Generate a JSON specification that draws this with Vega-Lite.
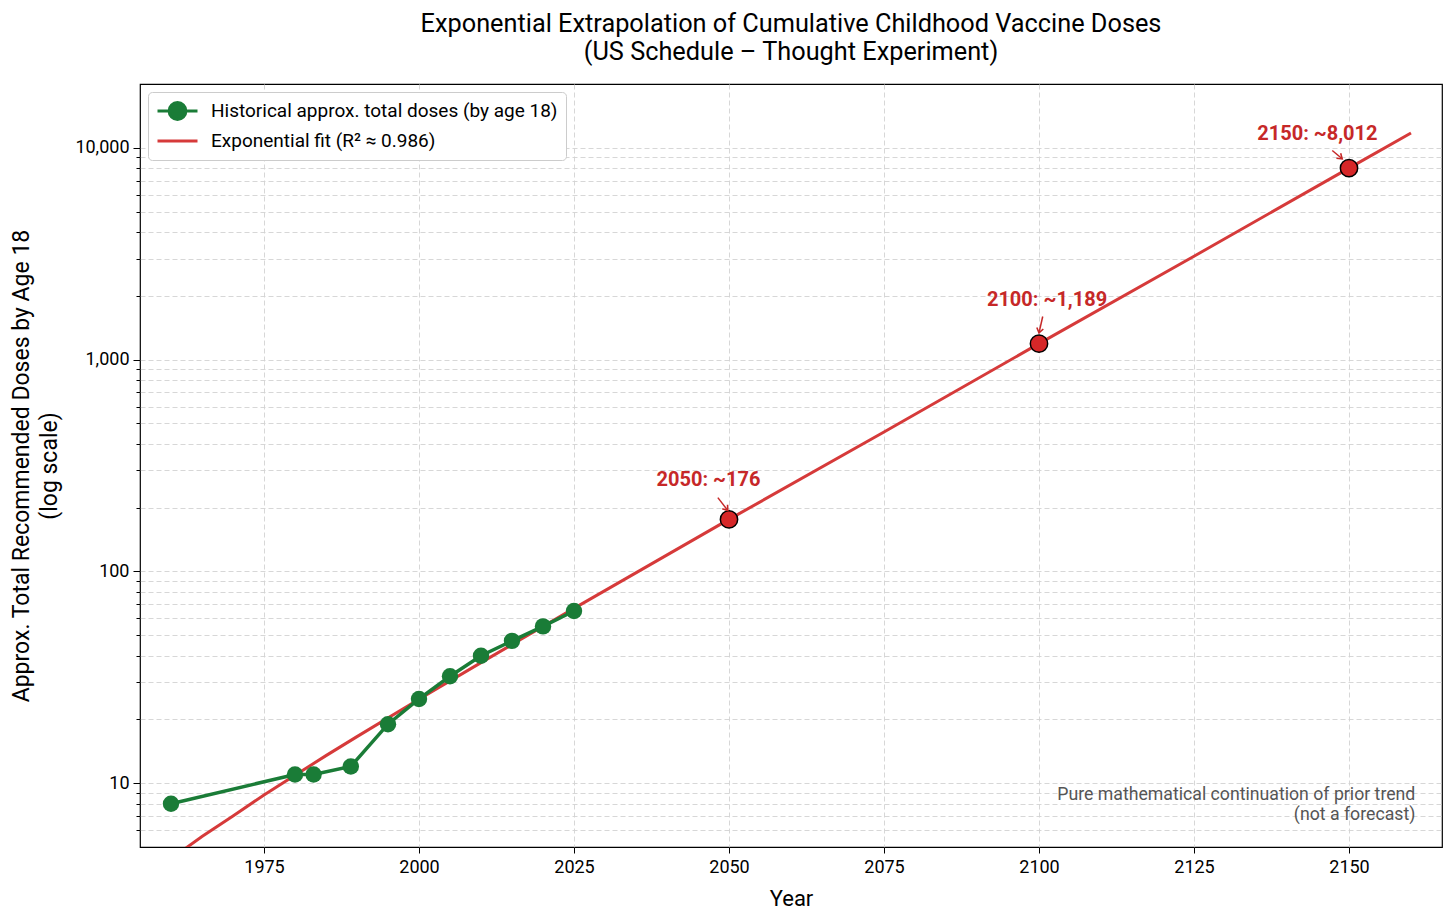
{
  "$schema": "https://vega.github.io/schema/vega-lite/v6.json",
  "width": 1302,
  "height": 763,
  "autosize": {"type": "none"},
  "padding": {"left": 140, "top": 84, "right": 14, "bottom": 76},
  "background": "white",
  "config": {
    "font": "Roboto",
    "view": {"stroke": "black", "strokeWidth": 1.2},
    "axis": {
      "domain": false,
      "tickColor": "black",
      "labelColor": "black",
      "titleColor": "black",
      "gridColor": "#d2d2d2",
      "gridDash": [5, 3],
      "gridWidth": 0.9,
      "labelFontSize": 18,
      "titleFontSize": 22,
      "titleFontWeight": "normal"
    }
  },
  "title": {
    "text": ["Exponential Extrapolation of Cumulative Childhood Vaccine Doses", "(US Schedule – Thought Experiment)"],
    "fontSize": 25.3,
    "fontWeight": "normal",
    "color": "black",
    "anchor": "middle",
    "offset": 19,
    "lineHeight": 28
  },
  "datasets": {
    "hist": [
      {"year": 1960, "value": 8, "series": "Historical approx. total doses (by age 18)"},
      {"year": 1980, "value": 11, "series": "Historical approx. total doses (by age 18)"},
      {"year": 1983, "value": 11, "series": "Historical approx. total doses (by age 18)"},
      {"year": 1989, "value": 12, "series": "Historical approx. total doses (by age 18)"},
      {"year": 1995, "value": 19, "series": "Historical approx. total doses (by age 18)"},
      {"year": 2000, "value": 25, "series": "Historical approx. total doses (by age 18)"},
      {"year": 2005, "value": 32, "series": "Historical approx. total doses (by age 18)"},
      {"year": 2010, "value": 40, "series": "Historical approx. total doses (by age 18)"},
      {"year": 2015, "value": 47, "series": "Historical approx. total doses (by age 18)"},
      {"year": 2020, "value": 55, "series": "Historical approx. total doses (by age 18)"},
      {"year": 2025, "value": 65, "series": "Historical approx. total doses (by age 18)"}
    ],
    "fit": [
      {"year": 1960, "value": 4.4, "series": "Exponential fit (R² ≈ 0.986)"},
      {"year": 1965, "value": 5.6, "series": "Exponential fit (R² ≈ 0.986)"},
      {"year": 1970, "value": 7.0, "series": "Exponential fit (R² ≈ 0.986)"},
      {"year": 1975, "value": 8.8, "series": "Exponential fit (R² ≈ 0.986)"},
      {"year": 1980, "value": 10.9, "series": "Exponential fit (R² ≈ 0.986)"},
      {"year": 1985, "value": 13.5, "series": "Exponential fit (R² ≈ 0.986)"},
      {"year": 1990, "value": 16.6, "series": "Exponential fit (R² ≈ 0.986)"},
      {"year": 2000, "value": 24.9, "series": "Exponential fit (R² ≈ 0.986)"},
      {"year": 2010, "value": 37.1, "series": "Exponential fit (R² ≈ 0.986)"},
      {"year": 2025, "value": 66.9, "series": "Exponential fit (R² ≈ 0.986)"},
      {"year": 2050, "value": 176, "series": "Exponential fit (R² ≈ 0.986)"},
      {"year": 2075, "value": 455, "series": "Exponential fit (R² ≈ 0.986)"},
      {"year": 2100, "value": 1189, "series": "Exponential fit (R² ≈ 0.986)"},
      {"year": 2125, "value": 3077, "series": "Exponential fit (R² ≈ 0.986)"},
      {"year": 2150, "value": 8012, "series": "Exponential fit (R² ≈ 0.986)"},
      {"year": 2160, "value": 11750, "series": "Exponential fit (R² ≈ 0.986)"}
    ],
    "ann": [
      {"year": 2050, "value": 176, "label": "2050: ~176", "tx": 2046.7, "ty": 269, "ax": 2048.2, "ay": 223, "bx": 2049.8, "by": 194},
      {"year": 2100, "value": 1189, "label": "2100: ~1,189", "tx": 2101.3, "ty": 1901, "ax": 2100.6, "ay": 1597, "bx": 2100.0, "by": 1337},
      {"year": 2150, "value": 8012, "label": "2150: ~8,012", "tx": 2144.9, "ty": 11640, "ax": 2147.3, "ay": 9710, "bx": 2148.9, "by": 8872}
    ],
    "note": [
      {"year": 2160.7, "value": 8.77, "text": ["Pure mathematical continuation of prior trend", "(not a forecast)"]}
    ]
  },
  "layer": [
    {
      "data": {"name": "fit"},
      "mark": {"type": "line", "strokeWidth": 3, "clip": true},
      "encoding": {
        "x": {
          "field": "year", "type": "quantitative",
          "scale": {"domain": [1955, 2165], "nice": false, "zero": false},
          "axis": {
            "title": "Year",
            "values": [1975, 2000, 2025, 2050, 2075, 2100, 2125, 2150],
            "format": "d",
            "tickSize": 6,
            "labelPadding": 5,
            "titlePadding": 12
          }
        },
        "y": {
          "field": "value", "type": "quantitative",
          "scale": {"type": "log", "domain": [5, 20000], "nice": false},
          "axis": {
            "title": ["Approx. Total Recommended Doses by Age 18", "(log scale)"],
            "titleFontSize": 23,
            "titleLineHeight": 28,
            "titlePadding": 13,
            "values": [6, 7, 8, 9, 10, 20, 30, 40, 50, 60, 70, 80, 90, 100, 200, 300, 400, 500, 600, 700, 800, 900, 1000, 2000, 3000, 4000, 5000, 6000, 7000, 8000, 9000, 10000],
            "labelExpr": "(datum.value == 10 || datum.value == 100 || datum.value == 1000 || datum.value == 10000) ? format(datum.value, ',') : ''",
            "tickSize": {"condition": {"test": "datum.value == 10 || datum.value == 100 || datum.value == 1000 || datum.value == 10000", "value": 7}, "value": 4},
            "labelPadding": 4,
            "labelOverlap": false
          }
        },
        "color": {
          "field": "series", "type": "nominal",
          "scale": {
            "domain": ["Historical approx. total doses (by age 18)", "Exponential fit (R² ≈ 0.986)"],
            "range": ["#1a7c37", "#d63a3a"]
          }
        }
      }
    },
    {
      "data": {"name": "hist"},
      "mark": {"type": "line", "strokeWidth": 3.5},
      "encoding": {
        "x": {"field": "year", "type": "quantitative"},
        "y": {"field": "value", "type": "quantitative"},
        "color": {"field": "series", "type": "nominal"}
      }
    },
    {
      "data": {"name": "hist"},
      "transform": [{"filter": "false"}],
      "mark": {"type": "point", "filled": false, "fill": "#1a7c37", "strokeWidth": 3, "opacity": 1},
      "encoding": {
        "x": {"field": "year", "type": "quantitative"},
        "y": {"field": "value", "type": "quantitative"},
        "color": {
          "field": "series", "type": "nominal",
          "legend": {
            "title": null,
            "orient": "top-left",
            "offset": 8,
            "padding": 8,
            "fillColor": "white",
            "strokeColor": "#cccccc",
            "cornerRadius": 4,
            "labelFontSize": 19,
            "labelColor": "black",
            "labelLimit": 500,
            "labelOffset": 12,
            "symbolSize": 1600,
            "clipHeight": 22,
            "rowPadding": 8,
            "symbolStrokeWidth": 3,
            "symbolOpacity": 1
          }
        },
        "shape": {
          "field": "series", "type": "nominal",
          "scale": {
            "domain": ["Historical approx. total doses (by age 18)", "Exponential fit (R² ≈ 0.986)"],
            "range": ["M-1,0L1,0M0.42,0A0.42,0.42,0,1,1,-0.42,0A0.42,0.42,0,1,1,0.42,0Z", "M-1,0L1,0"]
          }
        }
      }
    },
    {
      "data": {"name": "hist"},
      "mark": {"type": "circle", "size": 270, "color": "#1a7c37", "opacity": 1},
      "encoding": {
        "x": {"field": "year", "type": "quantitative"},
        "y": {"field": "value", "type": "quantitative"}
      }
    },
    {
      "data": {"name": "ann"},
      "mark": {"type": "circle", "size": 300, "fill": "#d62728", "stroke": "black", "strokeWidth": 1.5, "opacity": 1},
      "encoding": {
        "x": {"field": "year", "type": "quantitative"},
        "y": {"field": "value", "type": "quantitative"}
      }
    },
    {
      "data": {"name": "ann"},
      "mark": {"type": "rule", "color": "#c62828", "strokeWidth": 1.5},
      "encoding": {
        "x": {"field": "ax", "type": "quantitative"},
        "y": {"field": "ay", "type": "quantitative"},
        "x2": {"field": "bx"},
        "y2": {"field": "by"}
      }
    },
    {
      "data": {"name": "ann"},
      "transform": [{"filter": "datum.year == 2050"}],
      "mark": {"type": "point", "shape": "M-1,-0.7L0,0L-1,0.7", "size": 90, "filled": false, "stroke": "#c62828", "strokeWidth": 1.6, "angle": 53, "opacity": 1},
      "encoding": {
        "x": {"field": "bx", "type": "quantitative"},
        "y": {"field": "by", "type": "quantitative"}
      }
    },
    {
      "data": {"name": "ann"},
      "transform": [{"filter": "datum.year == 2100"}],
      "mark": {"type": "point", "shape": "M-1,-0.7L0,0L-1,0.7", "size": 90, "filled": false, "stroke": "#c62828", "strokeWidth": 1.6, "angle": 103, "opacity": 1},
      "encoding": {
        "x": {"field": "bx", "type": "quantitative"},
        "y": {"field": "by", "type": "quantitative"}
      }
    },
    {
      "data": {"name": "ann"},
      "transform": [{"filter": "datum.year == 2150"}],
      "mark": {"type": "point", "shape": "M-1,-0.7L0,0L-1,0.7", "size": 90, "filled": false, "stroke": "#c62828", "strokeWidth": 1.6, "angle": 40, "opacity": 1},
      "encoding": {
        "x": {"field": "bx", "type": "quantitative"},
        "y": {"field": "by", "type": "quantitative"}
      }
    },
    {
      "data": {"name": "ann"},
      "mark": {"type": "text", "fontSize": 20, "fontWeight": "bold", "color": "#c62828", "align": "center", "baseline": "middle"},
      "encoding": {
        "x": {"field": "tx", "type": "quantitative"},
        "y": {"field": "ty", "type": "quantitative"},
        "text": {"field": "label"}
      }
    },
    {
      "data": {"name": "note"},
      "mark": {"type": "text", "fontSize": 17.7, "color": "#555555", "align": "right", "baseline": "middle", "lineHeight": 20},
      "encoding": {
        "x": {"field": "year", "type": "quantitative"},
        "y": {"field": "value", "type": "quantitative"},
        "text": {"field": "text"}
      }
    }
  ]
}
